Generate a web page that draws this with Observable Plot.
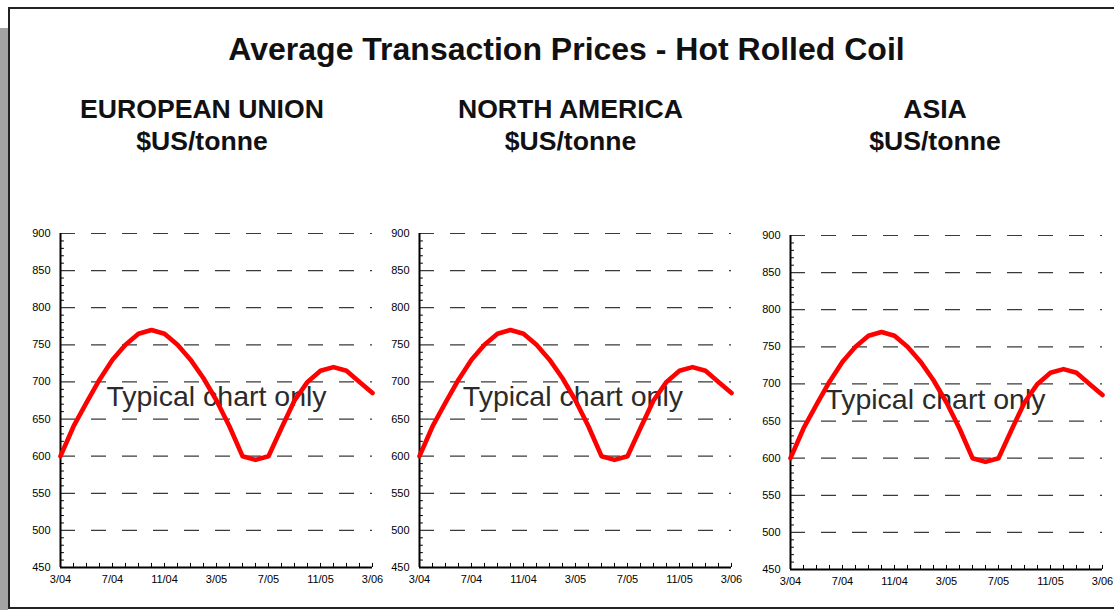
<!DOCTYPE html>
<html>
<head>
<meta charset="utf-8">
<script src="https://cdn.jsdelivr.net/npm/d3@7"></script>
<script src="https://cdn.jsdelivr.net/npm/@observablehq/plot@0.6"></script>
<style>
  html, body { margin: 0; padding: 0; background: #fff; }
  body { width: 1114px; height: 610px; position: relative; overflow: hidden;
         font-family: "Liberation Sans", Arial, sans-serif; }
  .shadow { position: absolute; left: 0; top: 28px; width: 8px; height: 590px; background: #a3a3a3; }
  .frame { position: absolute; left: 8px; top: 7px; width: 1130px; height: 598px;
           border: 2px solid #222; background: #fff; }
  .t { position: absolute; text-align: center; font-weight: bold; color: #111; line-height: 1; white-space: nowrap; }
  .panel { position: absolute; }
</style>
</head>
<body>
<div class="shadow"></div>
<div class="frame"></div>
<div id="titles"></div>
<div id="charts"></div>
<script>
// ---- data ----
const mainTitle = "Average Transaction Prices - Hot Rolled Coil";
const regions = ["EUROPEAN UNION", "NORTH AMERICA", "ASIA"];
const unitLabel = "$US/tonne";
const months = ["3/04","4/04","5/04","6/04","7/04","8/04","9/04","10/04","11/04","12/04",
                "1/05","2/05","3/05","4/05","5/05","6/05","7/05","8/05","9/05","10/05",
                "11/05","12/05","1/06","2/06","3/06"];
const xTickLabels = ["3/04","7/04","11/04","3/05","7/05","11/05","3/06"];
const yTicks = [450, 500, 550, 600, 650, 700, 750, 800, 850, 900];
const gridValues = [500, 550, 600, 650, 700, 750, 800, 850, 900];
const euValues   = [600,640,672,703,730,750,765,770,765,750,730,705,675,640,600,595,600,638,675,700,715,720,715,700,685];
const naValues   = [600,640,672,703,730,750,765,770,765,750,730,705,675,640,600,595,600,638,675,700,715,720,715,700,685];
const asiaValues = [600,640,672,703,730,750,765,770,765,750,730,705,675,640,600,595,600,638,675,700,715,720,715,700,685];
const watermark = "Typical chart only";
const watermarkX = [12.0, 11.8, 11.15];
const watermarkY = [680, 680, 678];

// ---- layout ----
const seriesList = [euValues, naValues, asiaValues];
const panelLeft = [20, 379, 750];
const panelTop = [220, 220, 222];
const titleCenters = [202, 570.5, 935];

function addText(txt, cx, baseline, size) {
  const d = document.createElement("div");
  d.className = "t";
  d.textContent = txt;
  d.style.fontSize = size + "px";
  d.style.width = "700px";
  d.style.left = (cx - 350) + "px";
  d.style.top = (baseline - 0.8465 * size) + "px";
  document.getElementById("titles").appendChild(d);
}
addText(mainTitle, 566.5, 60, 32);
regions.forEach((r, k) => {
  addText(r, titleCenters[k], 118.5, 26.6);
  addText(unitLabel, titleCenters[k], 150.5, 26.6);
});

const minorY = d3.range(450, 901, 10).filter(v => v % 50 !== 0);
const monthIdx = months.map((m, i) => i);
const xTicks = xTickLabels.map(l => months.indexOf(l));

seriesList.forEach((vals, k) => {
  const data = vals.map((v, i) => ({i, v}));
  const chart = Plot.plot({
    width: 362, height: 372,
    marginLeft: 40, marginRight: 10, marginTop: 13, marginBottom: 25,
    x: {domain: [0, 24]},
    y: {domain: [450, 900]},
    style: {fontFamily: "'Liberation Sans', Arial, sans-serif", fontSize: "11px", color: "#000", background: "transparent", overflow: "visible"},
    marks: [
      Plot.ruleY(gridValues, {x1: 0, x2: 24, stroke: "#3a3a3a", strokeWidth: 1.2, strokeDasharray: "15,16"}),
      Plot.ruleY(minorY, {x1: 0, x2: 0.3, stroke: "#000", strokeWidth: 1}),
      Plot.ruleX(monthIdx, {y1: 450, y2: 455.5, stroke: "#000", strokeWidth: 1}),
      Plot.ruleX([0], {y1: 450, y2: 900, stroke: "#000", strokeWidth: 2}),
      Plot.ruleY([450], {x1: 0, x2: 24, stroke: "#000", strokeWidth: 2}),
      Plot.axisY({ticks: yTicks, tickSize: 0, tickPadding: 10, label: null, fontSize: 11}),
      Plot.axisX({ticks: xTicks, tickFormat: i => months[i], tickSize: 0, tickPadding: 8, label: null, fontSize: 11}),
      Plot.text([watermark], {x: watermarkX[k], y: watermarkY[k], text: d => d, fontSize: 28.5, fill: "#2b2b2b"}),
      Plot.line(data, {x: "i", y: "v", stroke: "#ff0000", strokeWidth: 4.6, strokeLinejoin: "round"})
    ]
  });
  const wrap = document.createElement("div");
  wrap.className = "panel";
  wrap.style.left = panelLeft[k] + "px";
  wrap.style.top = panelTop[k] + "px";
  wrap.appendChild(chart);
  document.getElementById("charts").appendChild(wrap);
});
</script>
</body>
</html>
